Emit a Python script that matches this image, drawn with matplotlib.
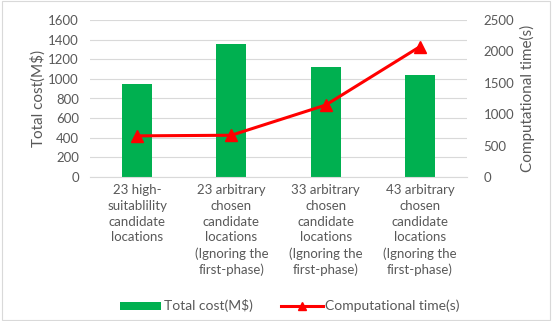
import matplotlib
matplotlib.use("Agg")
import matplotlib.pyplot as plt
from matplotlib.patches import Rectangle
from matplotlib.lines import Line2D

categories = ["23 high-\nsuitablility\ncandidate\nlocations",
              "23 arbitrary\nchosen\ncandidate\nlocations\n(Ignoring the\nfirst-phase)",
              "33 arbitrary\nchosen\ncandidate\nlocations\n(Ignoring the\nfirst-phase)",
              "43 arbitrary\nchosen\ncandidate\nlocations\n(Ignoring the\nfirst-phase)"]
total_cost = [950, 1355, 1120, 1035]
comp_time = [655, 665, 1145, 2075]
left_ticks = [0, 200, 400, 600, 800, 1000, 1200, 1400, 1600]
right_ticks = [0, 500, 1000, 1500, 2000, 2500]

plt.rcParams['font.family'] = ['Lato', 'DejaVu Sans']
gray = '#595959'

fig = plt.figure(figsize=(5.52, 3.21), dpi=100)
fig.patches.append(Rectangle((0.003, 0.003), 0.994, 0.994, transform=fig.transFigure,
                             fill=False, edgecolor='#d9d9d9', linewidth=0.8))
ax = fig.add_axes([90/552, 1-177/321, (467-90)/552, (177-20)/321])
x = list(range(len(categories)))
bars = ax.bar(x, total_cost, width=0.32, color='#00b050', label='Total cost(M$)', zorder=2)
ax.set_ylim(0, 1600)
ax.set_yticks(left_ticks)
ax.set_xlim(-0.5, 3.5)
ax.set_xticks(x)
ax.set_xticklabels(categories, fontsize=9.5, color=gray, linespacing=1.38, va='top')
ax.tick_params(axis='x', length=0, pad=5)
ax.tick_params(axis='y', length=0, labelsize=9.5, labelcolor=gray, pad=8)
ax.grid(axis='y', color='#d9d9d9', linewidth=0.8, zorder=0)
for s in ['top', 'right', 'left']:
    ax.spines[s].set_visible(False)
ax.spines['bottom'].set_color('#d9d9d9')
ax.set_ylabel('Total cost(M$)', fontsize=11, color=gray, labelpad=2)

ax2 = ax.twinx()
ax2.plot(x, comp_time, color='#ff0000', linewidth=2.2, marker='^', markersize=8,
         label='Computational time(s)', zorder=3)
ax2.set_ylim(0, 2500)
ax2.set_yticks(right_ticks)
ax2.tick_params(axis='y', length=0, labelsize=9.5, labelcolor=gray, pad=12)
for s in ['top', 'right', 'left', 'bottom']:
    ax2.spines[s].set_visible(False)
ax2.set_ylabel('Computational time(s)', fontsize=11, color=gray, labelpad=4)

line_proxy = Line2D([], [], color='#ff0000', linewidth=2.2, marker='^', markersize=6)
fig.legend([bars, line_proxy], ['Total cost(M$)', 'Computational time(s)'], loc='center',
           bbox_to_anchor=(0.525, 1-306/321), ncol=2,
           frameon=False, fontsize=10, labelcolor=gray, handlelength=3, columnspacing=2,
           handletextpad=0.2, handleheight=0.5)
fig.savefig('out.png', dpi=100)
